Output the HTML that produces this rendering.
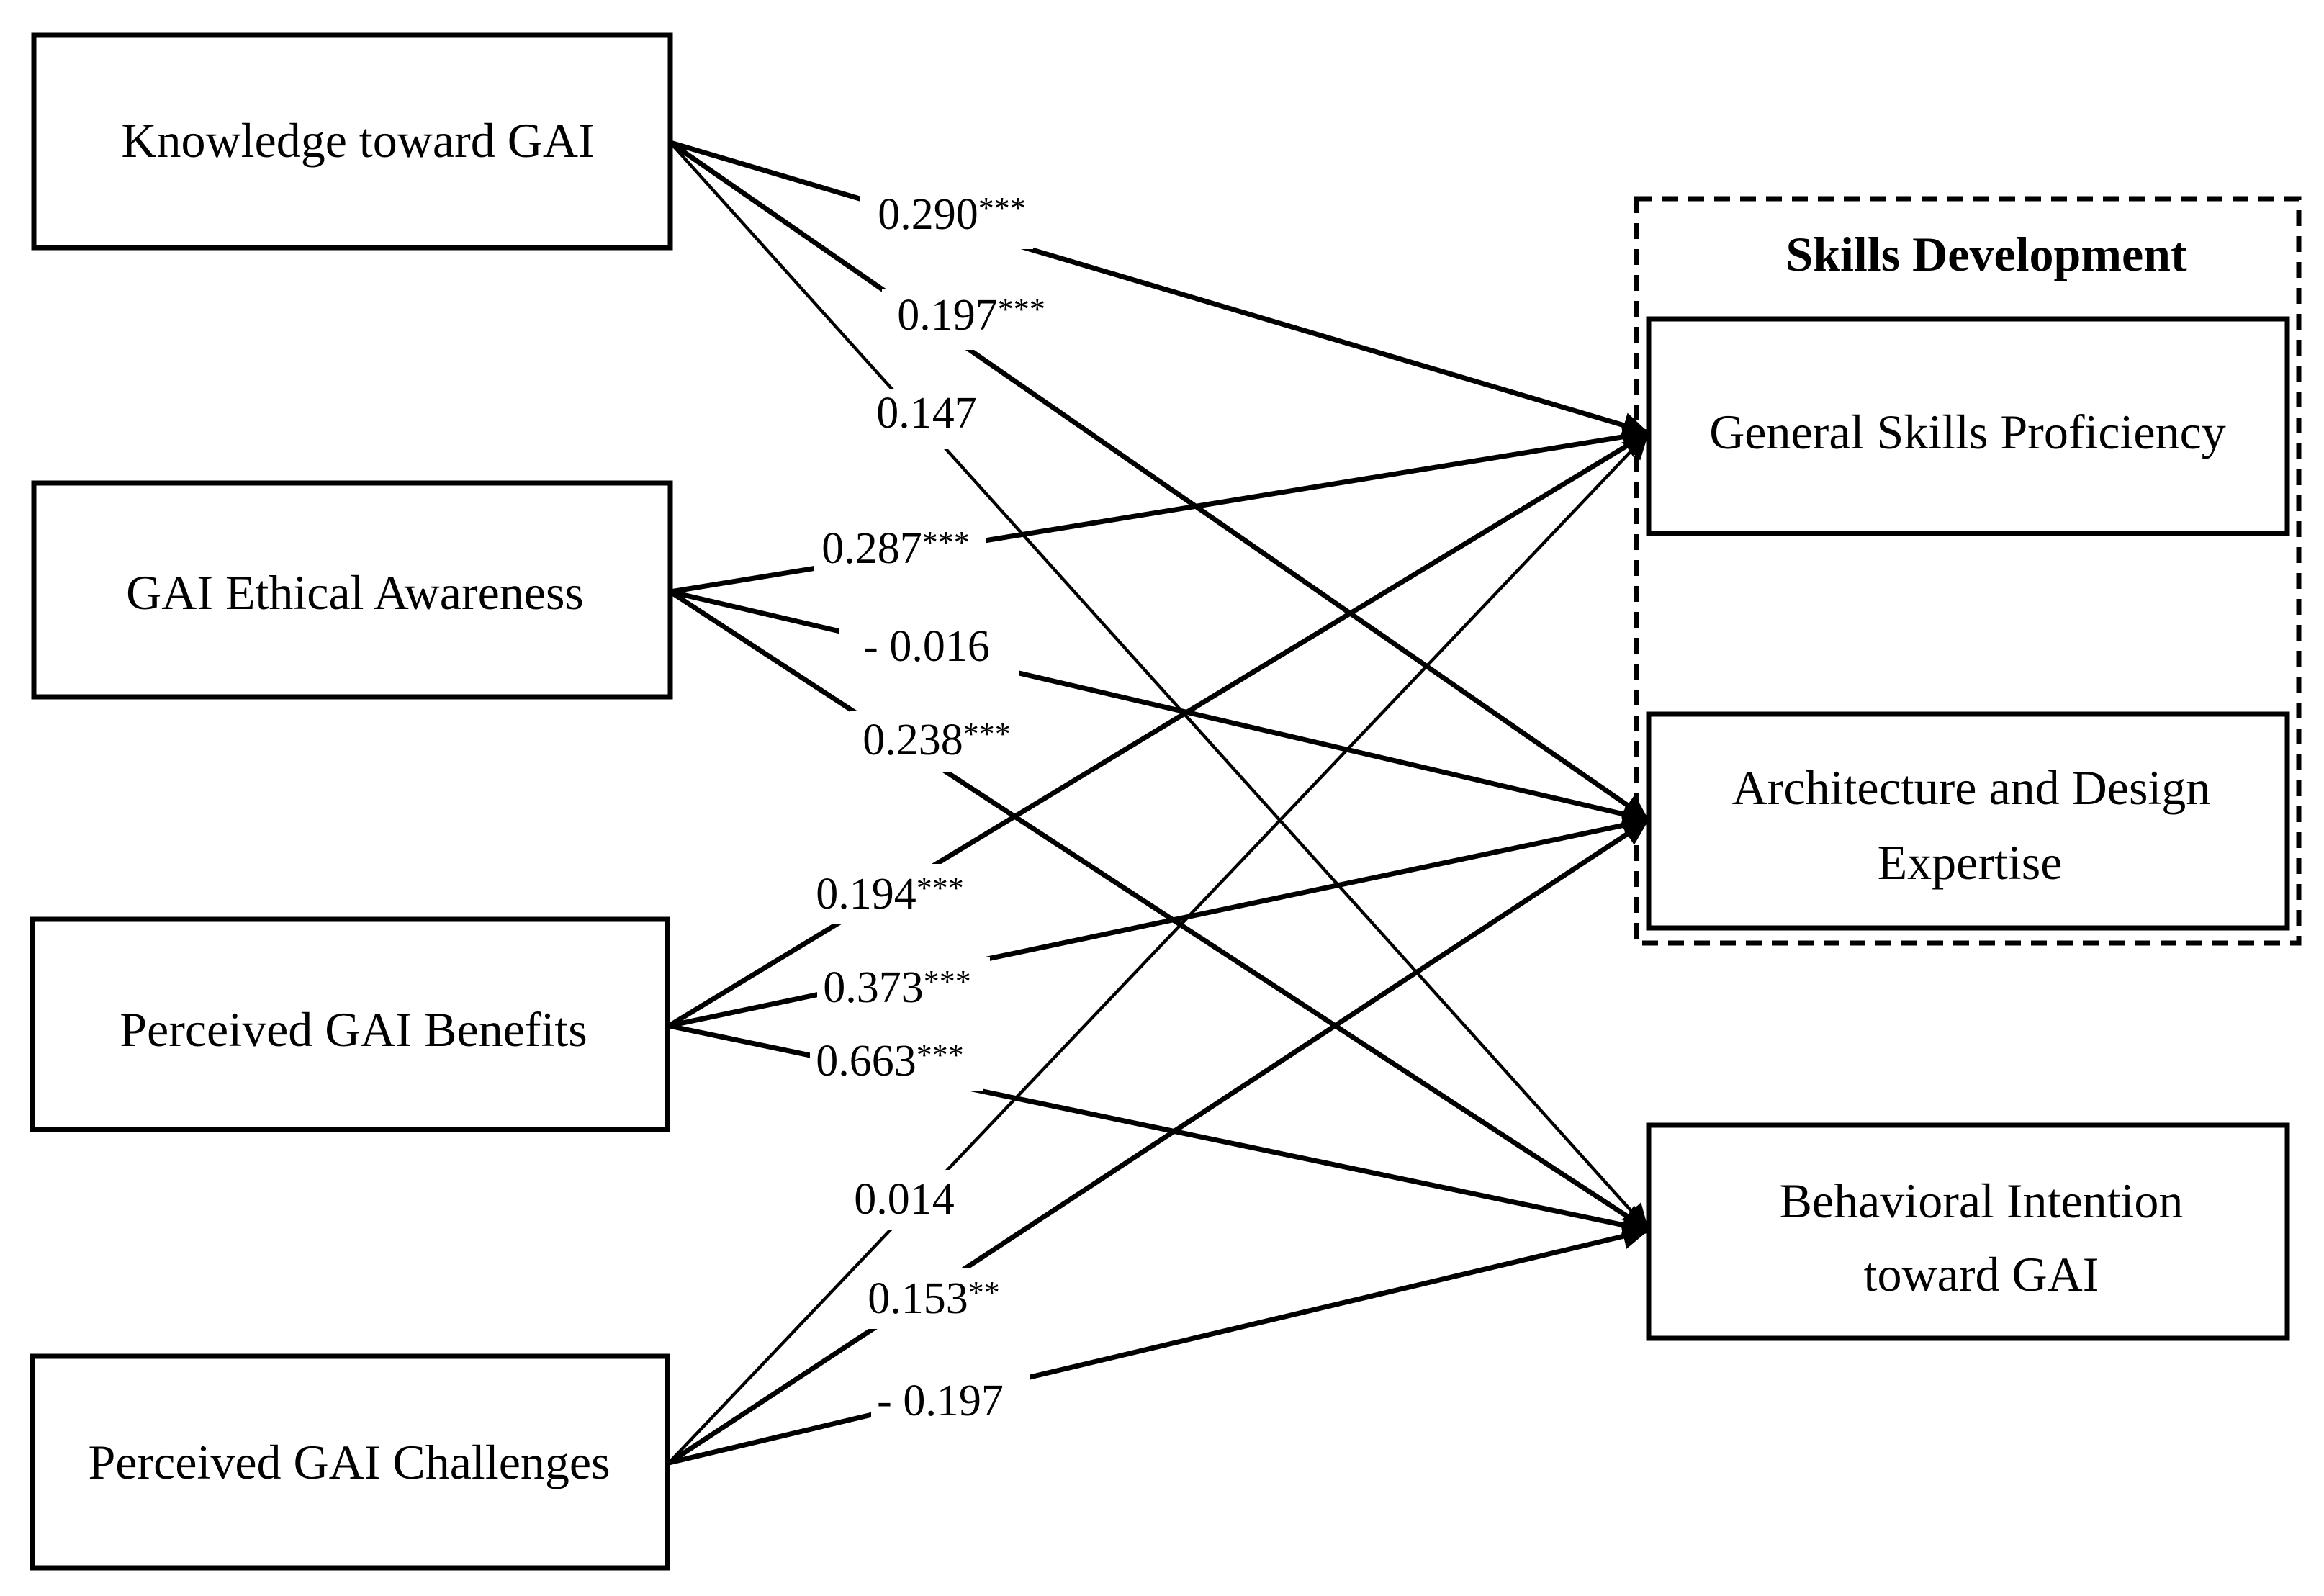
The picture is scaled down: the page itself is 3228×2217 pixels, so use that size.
<!DOCTYPE html>
<html><head><meta charset="utf-8"><style>
html,body{margin:0;padding:0;background:#fff;}
svg{display:block;}
text{font-family:"Liberation Serif",serif;fill:#000;}
</style></head><body>
<svg width="3228" height="2217" viewBox="0 0 3228 2217" xmlns="http://www.w3.org/2000/svg">
<defs>
<marker id="a" viewBox="0 0 10 10" refX="10" refY="5" markerWidth="36" markerHeight="36" markerUnits="userSpaceOnUse" orient="auto">
<path d="M0,0 L10,5 L0,10 z" fill="#000"/>
</marker>
</defs>
<rect x="0" y="0" width="3228" height="2217" fill="#fff"/>

<g stroke="#000" fill="none" stroke-width="7">
<line x1="931" y1="198" x2="2290" y2="601" marker-end="url(#a)"/>
<line x1="931" y1="198" x2="2290" y2="1139" marker-end="url(#a)"/>
<line x1="931" y1="198" x2="2290" y2="1709" marker-end="url(#a)" stroke-width="4.5"/>
<line x1="931" y1="822" x2="2290" y2="601" marker-end="url(#a)"/>
<line x1="931" y1="822" x2="2290" y2="1139" marker-end="url(#a)"/>
<line x1="931" y1="822" x2="2290" y2="1709" marker-end="url(#a)"/>
<line x1="929" y1="1425" x2="2290" y2="601" marker-end="url(#a)"/>
<line x1="929" y1="1425" x2="2290" y2="1139" marker-end="url(#a)"/>
<line x1="929" y1="1425" x2="2290" y2="1709" marker-end="url(#a)"/>
<line x1="929" y1="2032" x2="2290" y2="601" marker-end="url(#a)" stroke-width="4.5"/>
<line x1="929" y1="2032" x2="2290" y2="1139" marker-end="url(#a)"/>
<line x1="929" y1="2032" x2="2290" y2="1709" marker-end="url(#a)"/>
</g>

<g fill="#fff">
<rect x="1195" y="262" width="240" height="84"/>
<rect x="1225" y="402" width="240" height="84"/>
<rect x="1210" y="540" width="140" height="84"/>
<rect x="1130" y="725" width="240" height="84"/>
<rect x="1165" y="860" width="250" height="84"/>
<rect x="1180" y="988" width="240" height="84"/>
<rect x="1125" y="1200" width="240" height="84"/>
<rect x="1135" y="1330" width="240" height="84"/>
<rect x="1125" y="1432" width="240" height="84"/>
<rect x="1170" y="1625" width="175" height="84"/>
<rect x="1190" y="1762" width="230" height="84"/>
<rect x="1210" y="1905" width="220" height="84"/>
</g>

<g font-size="62" text-anchor="middle">
<text x="1322" y="318">0.290<tspan font-size="44" dy="-14">***</tspan></text>
<text x="1349" y="458">0.197<tspan font-size="44" dy="-14">***</tspan></text>
<text x="1287" y="594">0.147</text>
<text x="1244" y="782">0.287<tspan font-size="44" dy="-14">***</tspan></text>
<text x="1287" y="918">- 0.016</text>
<text x="1301" y="1048">0.238<tspan font-size="44" dy="-14">***</tspan></text>
<text x="1236" y="1262">0.194<tspan font-size="44" dy="-14">***</tspan></text>
<text x="1246" y="1392">0.373<tspan font-size="44" dy="-14">***</tspan></text>
<text x="1236" y="1494">0.663<tspan font-size="44" dy="-14">***</tspan></text>
<text x="1256" y="1686">0.014</text>
<text x="1297" y="1824">0.153<tspan font-size="44" dy="-14">**</tspan></text>
<text x="1306" y="1966">- 0.197</text>
</g>

<g fill="#fff" stroke="#000" stroke-width="7">
<rect x="47" y="49" width="884" height="295"/>
<rect x="47" y="671" width="884" height="297"/>
<rect x="45" y="1277" width="882" height="292"/>
<rect x="45" y="1884" width="882" height="294"/>
</g>
<g font-size="68" text-anchor="middle">
<text x="497" y="218">Knowledge toward GAI</text>
<text x="493" y="846">GAI Ethical Awareness</text>
<text x="491" y="1453">Perceived GAI Benefits</text>
<text x="485" y="2054">Perceived GAI Challenges</text>
</g>

<rect x="2273" y="276" width="920" height="1034" fill="none" stroke="#000" stroke-width="7" stroke-dasharray="22,14"/>
<text x="2759" y="376" font-size="68" font-weight="bold" text-anchor="middle">Skills Development</text>

<g fill="#fff" stroke="#000" stroke-width="7">
<rect x="2290" y="443" width="887" height="298"/>
<rect x="2290" y="992" width="887" height="297"/>
<rect x="2290" y="1563" width="887" height="296"/>
</g>
<g font-size="68" text-anchor="middle">
<text x="2733" y="623">General Skills Proficiency</text>
<text x="2738" y="1117">Architecture and Design</text>
<text x="2736" y="1221">Expertise</text>
<text x="2752" y="1691">Behavioral Intention</text>
<text x="2752" y="1793">toward GAI</text>
</g>
</svg>
</body></html>
